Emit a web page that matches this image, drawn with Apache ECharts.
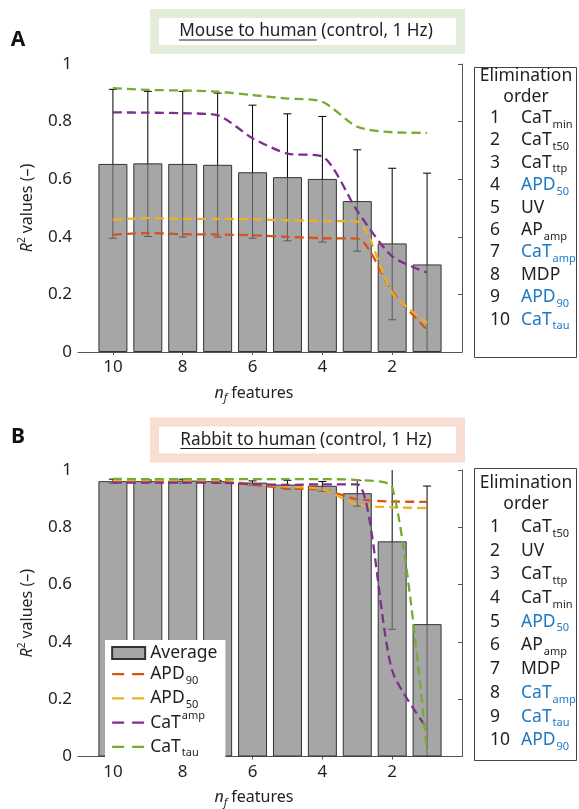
<!DOCTYPE html>
<html>
<head>
<meta charset="utf-8">
<script src="https://cdn.jsdelivr.net/npm/echarts@6/dist/echarts.min.js"></script>
<style>
  html, body { margin: 0; padding: 0; background: #fff; }
  #chart { width: 579px; height: 809px; }
</style>
</head>
<body>
<div id="chart"></div>
<script>
// number of features kept (x positions of the bars)
const nFeatures = [10, 9, 8, 7, 6, 5, 4, 3, 2, 1];

// Panel A: mouse to human
const avgA = [0.653, 0.655, 0.653, 0.650, 0.624, 0.607, 0.601, 0.524, 0.377, 0.304];
const errLowA = [0.395, 0.401, 0.399, 0.399, 0.395, 0.386, 0.382, 0.350, 0.112, -0.02];
const errHighA = [0.912, 0.905, 0.905, 0.899, 0.857, 0.827, 0.818, 0.702, 0.638, 0.621];
const apd90A = [0.407, 0.413, 0.409, 0.408, 0.405, 0.400, 0.395, 0.394, 0.210, 0.077];
const apd50A = [0.459, 0.465, 0.462, 0.462, 0.461, 0.457, 0.455, 0.453, 0.205, 0.101];
const catAmpA = [0.832, 0.831, 0.829, 0.822, 0.742, 0.689, 0.679, 0.490, 0.332, 0.276];
const catTauA = [0.916, 0.910, 0.908, 0.904, 0.892, 0.880, 0.869, 0.782, 0.763, 0.761];

// Panel B: rabbit to human
const avgB = [0.961, 0.961, 0.963, 0.961, 0.956, 0.949, 0.945, 0.919, 0.751, 0.462];
const errLowB = [0.954, 0.956, 0.954, 0.953, 0.947, 0.933, 0.926, 0.874, 0.444, -0.02];
const errHighB = [0.968, 0.965, 0.968, 0.964, 0.962, 0.964, 0.960, 0.964, 1.06, 0.944];
const apd90B = [0.960, 0.960, 0.960, 0.960, 0.948, 0.936, 0.931, 0.898, 0.890, 0.889];
const apd50B = [0.963, 0.963, 0.963, 0.963, 0.952, 0.942, 0.933, 0.879, 0.870, 0.867];
const catAmpB = [0.956, 0.956, 0.956, 0.956, 0.951, 0.948, 0.950, 0.950, 0.300, 0.098];
const catTauB = [0.969, 0.968, 0.968, 0.968, 0.968, 0.968, 0.968, 0.965, 0.940, 0.010];

// elimination order lists (name_subscript)
const elimA = ['CaT_min', 'CaT_t50', 'CaT_ttp', 'APD_50', 'UV', 'AP_amp', 'CaT_amp', 'MDP', 'APD_90', 'CaT_tau'];
const elimB = ['CaT_t50', 'UV', 'CaT_ttp', 'CaT_min', 'APD_50', 'AP_amp', 'MDP', 'CaT_amp', 'CaT_tau', 'APD_90'];
const highlighted = ['APD_50', 'APD_90', 'CaT_amp', 'CaT_tau'];

const xTicks = [2, 4, 6, 8, 10];

const FONT = '"Noto Sans", "Open Sans", sans-serif';
const TXT = '#231f20';
const BLUE = '#1f78c4';
const colors = { APD90: '#D95319', APD50: '#EDB120', CaTamp: '#7E2F8E', CaTtau: '#77AC30' };

const chart = echarts.init(document.getElementById('chart'));

function pairs(ys) {
  return nFeatures.map((x, i) => [x, ys[i]]);
}

function errData(lo, hi) {
  return nFeatures.map((x, i) => [x, lo[i], hi[i]]);
}

// error bars: vertical line + caps, clipped to 0..1
function renderErr(params, api) {
  const x = api.value(0);
  const lo = api.value(1);
  const hi = api.value(2);
  const pLo = api.coord([x, Math.max(lo, 0)]);
  const pHi = api.coord([x, Math.min(hi, 1)]);
  const style = { stroke: '#000', lineWidth: 1 };
  const children = [{ type: 'line', shape: { x1: pLo[0], y1: pLo[1], x2: pHi[0], y2: pHi[1] }, style }];
  if (hi <= 1) children.push({ type: 'line', shape: { x1: pHi[0] - 4, y1: pHi[1], x2: pHi[0] + 4, y2: pHi[1] }, style });
  if (lo >= 0) children.push({ type: 'line', shape: { x1: pLo[0] - 4, y1: pLo[1], x2: pLo[0] + 4, y2: pLo[1] }, style });
  return { type: 'group', children };
}

function lineSeries(name, ys, idx) {
  return {
    name, type: 'line', xAxisIndex: idx, yAxisIndex: idx, z: 4,
    data: pairs(ys), symbol: 'none', smooth: 0.25,
    lineStyle: { color: colors[name], width: 2.3, type: [9, 5] },
    itemStyle: { color: colors[name] }
  };
}

function panelSeries(idx, avg, lo, hi, apd90, apd50, catAmp, catTau) {
  return [
    { type: 'custom', xAxisIndex: idx, yAxisIndex: idx, z: 1, renderItem: renderErr, data: errData(lo, hi) },
    {
      name: 'Average', type: 'bar', xAxisIndex: idx, yAxisIndex: idx, z: 2, barWidth: 29,
      data: pairs(avg),
      itemStyle: { color: 'rgba(128,128,128,0.7)', borderColor: '#333', borderWidth: 1 }
    },
    lineSeries('APD90', apd90, idx),
    lineSeries('APD50', apd50, idx),
    lineSeries('CaTamp', catAmp, idx),
    lineSeries('CaTtau', catTau, idx)
  ];
}

// rich text styles (color for echarts components, fill for graphic elements)
function rs(size, color, extra) {
  return Object.assign({ fontSize: size, color: color, fill: color, fontFamily: FONT }, extra || {});
}
const richText = {
  m: rs(17.5, TXT, { lineHeight: 19 }),
  mb: rs(17.5, BLUE, { lineHeight: 19 }),
  s: rs(11, TXT, { lineHeight: 19, padding: [13, 0, 0, 1] }),
  sb: rs(11, BLUE, { lineHeight: 19, padding: [13, 0, 0, 1] }),
  i: rs(16, TXT, { fontStyle: 'italic', lineHeight: 20 }),
  t: rs(16, TXT, { lineHeight: 20 }),
  isub: rs(11, TXT, { fontStyle: 'italic', lineHeight: 20, padding: [10, 4, 0, 0] }),
  sup2: rs(10, TXT, { lineHeight: 20, padding: [0, 4, 9, 0] })
};
const legendRich = {
  m: rs(17.5, TXT, { lineHeight: 17.5 }),
  s: rs(11, TXT, { lineHeight: 17.5, padding: [13, 0, 0, 1] }),
  up: rs(11, TXT, { lineHeight: 17.5, padding: [0, 0, 13, 1] })
};

function featureRich(label) {
  const blue = highlighted.indexOf(label) >= 0;
  const parts = label.split('_');
  let s = '{' + (blue ? 'mb' : 'm') + '|' + parts[0] + '}';
  if (parts[1]) s += '{' + (blue ? 'sb' : 's') + '|' + parts[1] + '}';
  return s;
}

function axesFor(top) {
  return {
    grid: { left: 78, right: 117, top: top, height: 288 },
    x: {
      type: 'value', min: 0, max: 11, inverse: true,
      axisLine: { lineStyle: { color: '#555', width: 1 } },
      axisTick: { customValues: xTicks, length: 3, lineStyle: { color: '#555' } },
      axisLabel: { customValues: xTicks, fontSize: 17, color: TXT, fontFamily: FONT, margin: 7 },
      splitLine: { show: false },
      name: '{i|n}{isub|f}{t|features}', nameLocation: 'middle', nameGap: 31,
      nameTextStyle: { rich: richText, padding: [0, 32, 0, 0] }
    },
    y: {
      type: 'value', min: 0, max: 1, interval: 0.2,
      axisLine: { show: true, lineStyle: { color: '#555', width: 1 } },
      axisTick: { show: true, length: 4, lineStyle: { color: '#555' } },
      axisLabel: { fontSize: 17, color: TXT, fontFamily: FONT, margin: 6 },
      splitLine: { show: false },
      name: '{i|R}{sup2|2}{t|values (–)}', nameLocation: 'middle', nameGap: 41,
      nameTextStyle: { rich: richText }
    }
  };
}

const axA = axesFor(64);
const axB = axesFor(470);

// title boxes and elimination lists
const graphics = [];
const measureCtx = document.createElement('canvas').getContext('2d');

function titleBox(cy, stroke, underlined, rest) {
  graphics.push({
    type: 'rect', shape: { x: 154.5, y: cy - 18, width: 306, height: 36 },
    style: { fill: '#fff', stroke: stroke, lineWidth: 9 }
  });
  const font = '17.2px ' + FONT;
  measureCtx.font = font;
  const full = underlined + ' ' + rest;
  const w = measureCtx.measureText(full).width;
  const uw = measureCtx.measureText(underlined).width;
  const left = 306 - w / 2;
  graphics.push({
    type: 'text',
    style: { x: left, y: cy, text: full, font: font, fill: TXT, textAlign: 'left', textVerticalAlign: 'middle' }
  });
  graphics.push({
    type: 'line', shape: { x1: left, y1: cy + 8.5, x2: left + uw, y2: cy + 8.5 },
    style: { stroke: TXT, lineWidth: 1 }
  });
}

function elimBox(top, bottom, headY, rowY0, step, list) {
  graphics.push({
    type: 'rect', shape: { x: 474.5, y: top, width: 102, height: bottom - top },
    style: { fill: '#fff', stroke: '#444', lineWidth: 1 }
  });
  graphics.push({
    type: 'text',
    style: { x: 526, y: headY, text: 'Elimination', font: '17.5px ' + FONT, fill: TXT, textAlign: 'center', textVerticalAlign: 'middle' }
  });
  graphics.push({
    type: 'text',
    style: { x: 526, y: headY + 21, text: 'order', font: '17.5px ' + FONT, fill: TXT, textAlign: 'center', textVerticalAlign: 'middle' }
  });
  list.forEach((label, i) => {
    const y = rowY0 + i * step;
    graphics.push({
      type: 'text',
      style: { x: 490, y: y, text: String(i + 1), font: '17.5px ' + FONT, fill: TXT, textAlign: 'left', textVerticalAlign: 'middle' }
    });
    graphics.push({
      type: 'text',
      style: { x: 521, y: y, text: featureRich(label), rich: richText, textAlign: 'left', textVerticalAlign: 'middle' }
    });
  });
}

titleBox(31.5, '#e4edd9', 'Mouse to human', '(control, 1 Hz)');
titleBox(440, '#f8ddd3', 'Rabbit to human', '(control, 1 Hz)');
elimBox(67.5, 357.5, 76, 118, 22.4, elimA);
elimBox(468.5, 760.5, 483, 527, 23.7, elimB);

graphics.push({
  type: 'text', style: { x: 18, y: 40, text: 'A', font: 'bold 21px ' + FONT, fill: '#111', textAlign: 'center', textVerticalAlign: 'middle' }
});
graphics.push({
  type: 'text', style: { x: 18, y: 437, text: 'B', font: 'bold 21px ' + FONT, fill: '#111', textAlign: 'center', textVerticalAlign: 'middle' }
});

const legendLabels = {
  Average: '{m|Average}',
  APD90: '{m|APD}{s|90}',
  APD50: '{m|APD}{s|50}',
  CaTamp: '{m|CaT}{up|amp}',
  CaTtau: '{m|CaT}{s|tau}'
};

chart.setOption({
  animation: false,
  backgroundColor: '#fff',
  grid: [axA.grid, axB.grid],
  xAxis: [Object.assign({ gridIndex: 0 }, axA.x), Object.assign({ gridIndex: 1 }, axB.x)],
  yAxis: [Object.assign({ gridIndex: 0 }, axA.y), Object.assign({ gridIndex: 1 }, axB.y)],
  legend: {
    orient: 'vertical', left: 105, top: 640,
    backgroundColor: '#fff', padding: [4, 8, 4, 6],
    itemWidth: 33, itemHeight: 12, itemGap: 0.2,
    selectedMode: false,
    itemStyle: { opacity: 0 },
    lineStyle: { type: [12, 8], width: 2.3 },
    data: [
      { name: 'Average', icon: 'rect', itemStyle: { opacity: 1 } },
      'APD90', 'APD50', 'CaTamp', 'CaTtau'
    ],
    formatter: name => legendLabels[name],
    textStyle: { rich: legendRich }
  },
  graphic: graphics,
  series: [].concat(
    panelSeries(0, avgA, errLowA, errHighA, apd90A, apd50A, catAmpA, catTauA),
    panelSeries(1, avgB, errLowB, errHighB, apd90B, apd50B, catAmpB, catTauB)
  )
});
</script>
</body>
</html>
